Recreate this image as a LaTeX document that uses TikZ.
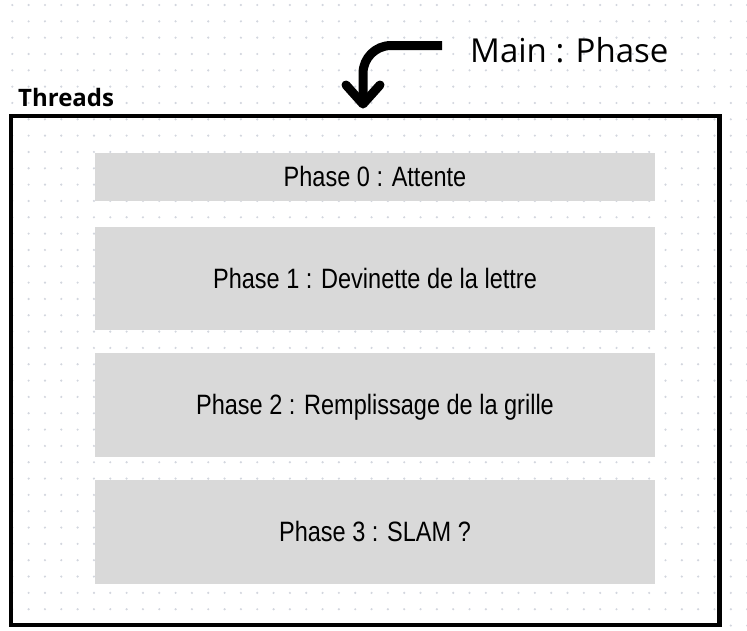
\documentclass[tikz,border=0pt]{standalone}
\usepackage{fontspec}
\setmainfont{Open Sans}
\newfontfamily\condfont[FakeStretch=0.84]{Liberation Sans}
\definecolor{dotc}{HTML}{D2D6DE}
\definecolor{boxc}{HTML}{D9D9D9}
\tikzset{
  phasebox/.style={fill=boxc, draw=none, minimum width=560pt, inner sep=0pt,
    text height=20pt, text depth=0.5pt,
    font=\condfont\fontsize{28}{32}\selectfont, text=black},
  bigarrow/.style={line width=9pt, draw=black},
  griddot/.style={fill=dotc, draw=none}
}
\begin{document}
\begin{tikzpicture}[x=1pt,y=-1pt]
\useasboundingbox (0,0) rectangle (747,630);
\fill[white] (0,0) rectangle (747,630);
% dotted grid
\foreach \i in {0,...,45}{
  \foreach \j in {0,...,38}{
    \fill[griddot] ({12.3+16.33*\i},{5+16.33*\j}) circle (1.2pt);
  }
}
% frame
\node[draw=black, line width=4.5pt, minimum width=708.7pt, minimum height=509pt, inner sep=0pt] (frame) at (365.15,370.5) {};
\node[anchor=base west, inner sep=0pt, font=\bfseries\fontsize{24}{28}\selectfont] (threads) at (18,106.5) {Threads};
% phases
\node[phasebox, minimum height=48pt] (p0) at (375,177) {Phase 0 : Attente};
\node[phasebox, minimum height=103pt] (p1) at (375,278.5) {Phase 1 : Devinette de la lettre};
\node[phasebox, minimum height=104pt] (p2) at (375,405) {Phase 2 : Remplissage de la grille};
\node[phasebox, minimum height=104pt] (p3) at (375,532) {Phase 3 : SLAM ?};
% main label and arrow
\node[anchor=base west, inner sep=0pt, font=\fontsize{33}{38}\selectfont] (mainlabel) at (470,62) {Main : Phase};
\coordinate (arrowstart) at (442,45.5);
\coordinate (arrowtip) at (363,104);
\draw[bigarrow, rounded corners=28pt] (arrowstart) -| (arrowtip);
\draw[bigarrow, line cap=round, line join=round] ([xshift=-17pt,yshift=19pt]arrowtip) -- (arrowtip) -- ([xshift=17pt,yshift=19pt]arrowtip);
\end{tikzpicture}
\end{document}
